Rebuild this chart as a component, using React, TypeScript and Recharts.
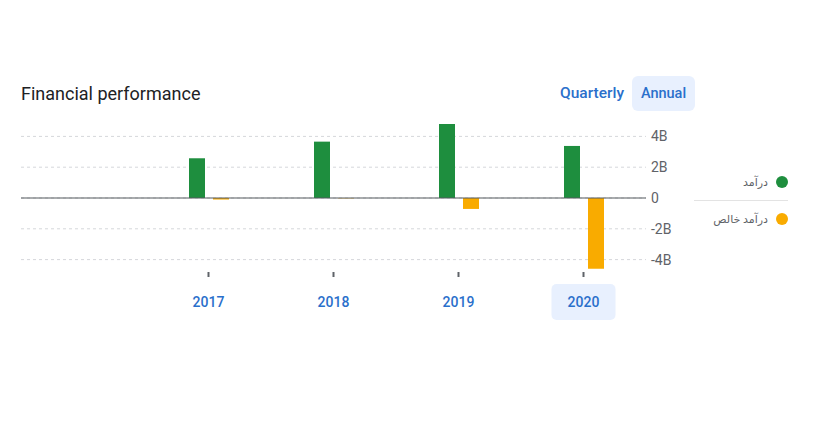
import { BarChart, Bar, XAxis, YAxis, CartesianGrid, ReferenceLine, Legend } from "recharts"

// yearly figures, first slot left empty like the source layout
const years = ["", "2017", "2018", "2019", "2020"]
const revenue = [null, 2.58e9, 3.66e9, 4.8e9, 3.38e9]
const netIncome = [null, -0.1e9, -0.02e9, -0.71e9, -4.59e9]
const yTicks = [-4e9, -2e9, 0, 2e9, 4e9]
const seriesNames = ["درآمد", "درآمد خالص"]
const selectedYear = "2020"

const data = years.map((year, i) => ({
  year,
  revenue: revenue[i],
  netIncome: netIncome[i],
}))

const GREEN = "#1e8e3e"
const ORANGE = "#f9ab00"
const BLUE = "#2a6fcb"
const font = "Roboto, 'DejaVu Sans', sans-serif"

const formatB = (v: number) => (v === 0 ? "0" : `${v / 1e9}B`)

const YearTick = (props: any) => {
  const { x, y, payload } = props
  if (!payload.value) return null
  const active = payload.value === selectedYear
  return (
    <g>
      <line x1={x} x2={x} y1={y - 3} y2={y + 2} stroke="#5f6368" strokeWidth={2} />
      {active && <rect x={x - 32} y={y + 9} width={64} height={36} rx={5} fill="#e8f0fe" />}
      <text
        x={x}
        y={y + 27}
        textAnchor="middle"
        dominantBaseline="central"
        fill={BLUE}
        fontSize={14}
        fontWeight={500}
        fontFamily={font}
      >
        {payload.value}
      </text>
    </g>
  )
}

const SideLegend = () => (
  <div style={{ width: 94, fontFamily: font }}>
    {[GREEN, ORANGE].map((c, i) => (
      <div
        key={i}
        style={{
          display: "flex",
          alignItems: "center",
          justifyContent: "flex-end",
          height: 36,
          borderTop: i > 0 ? "1px solid #e3e3e3" : "none",
        }}
      >
        <span style={{ fontSize: 11, color: "#5f6368", marginRight: 8 }}>{seriesNames[i]}</span>
        <span style={{ width: 12, height: 12, borderRadius: 6, background: c, display: "inline-block" }} />
      </div>
    ))}
  </div>
)

const App = () => {
  return (
    <div style={{ position: "absolute", left: 0, top: 0, width: 822, height: 434, background: "#fff" }}>
      <div
        style={{
          position: "absolute",
          left: 21,
          top: 83,
          fontFamily: font,
          fontSize: 18,
          fontWeight: 400,
          color: "#202124",
        }}
      >
        Financial performance
      </div>
      <div
        style={{
          position: "absolute",
          left: 560,
          top: 84,
          fontFamily: font,
          fontSize: 15.5,
          fontWeight: 500,
          color: BLUE,
        }}
      >
        Quarterly
      </div>
      <div
        style={{
          position: "absolute",
          left: 632,
          top: 76,
          width: 63,
          height: 35,
          borderRadius: 6,
          background: "#e8f0fe",
          fontFamily: font,
          fontSize: 14.5,
          fontWeight: 500,
          color: BLUE,
          display: "flex",
          alignItems: "center",
          justifyContent: "center",
        }}
      >
        Annual
      </div>
      <BarChart
        width={822}
        height={434}
        data={data}
        barSize={16}
        barGap={8}
        margin={{ top: 121, right: 116, bottom: 99, left: 21 }}
      >
        <CartesianGrid
          vertical={false}
          horizontalValues={yTicks}
          strokeDasharray="3 3"
          stroke="#d5d7db"
        />
        <XAxis
          dataKey="year"
          axisLine={false}
          tickLine={false}
          tickSize={0}
          tickMargin={0}
          height={60}
          interval={0}
          tick={<YearTick />}
        />
        <YAxis
          orientation="right"
          width={60}
          domain={[-5e9, 5e9]}
          ticks={yTicks}
          tickFormatter={formatB}
          axisLine={false}
          tickLine={false}
          tickSize={0}
          tickMargin={5}
          tick={{ fill: "#5f6368", fontSize: 14, fontFamily: font, textAnchor: "start" }}
        />
        <Legend
          layout="horizontal"
          verticalAlign="middle"
          align="center"
          wrapperStyle={{ position: "absolute", left: 694, top: 164, width: 94 }}
          content={() => <SideLegend />}
        />
        <Bar dataKey="revenue" fill={GREEN} isAnimationActive={false} />
        <Bar dataKey="netIncome" fill={ORANGE} isAnimationActive={false} />
        <ReferenceLine y={0} stroke="#555a5f" strokeWidth={1.2} />
      </BarChart>
    </div>
  )
}

export default App
